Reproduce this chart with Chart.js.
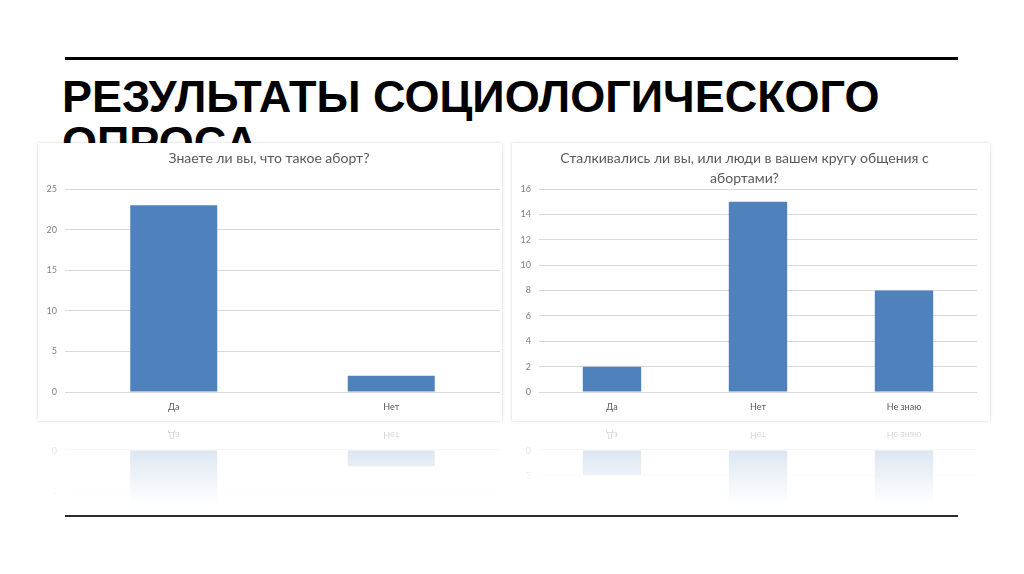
<!DOCTYPE html>
<html lang="ru">
<head>
<meta charset="utf-8">
<script src="https://cdn.jsdelivr.net/npm/chart.js@4.4.1/dist/chart.umd.min.js"></script>
<style>
  html, body { margin: 0; padding: 0; background: #fff; }
  body { width: 1024px; height: 574px; position: relative; overflow: hidden; }
  .rule { position: absolute; left: 65px; width: 893px; background: #000; }
  .rule.top { top: 57px; height: 3px; }
  .rule.bottom { top: 515px; height: 2px; background: #2b2b2b; }
  h1 {
    position: absolute; left: 62px; top: 74px; margin: 0; width: 940px;
    font: bold 45px/46px "Liberation Sans", Arial, sans-serif; color: #000;
  }
  .panel {
    position: absolute; top: 143px; height: 278px; background: #fff;
    box-shadow: 0 0 3px rgba(0, 0, 0, 0.18);
    -webkit-box-reflect: below 0px linear-gradient(to bottom, transparent 70%, rgba(255, 255, 255, 0.3) 100%);
  }
  #p1 { left: 38px; width: 464px; }
  #p2 { left: 512px; width: 478px; }
</style>
</head>
<body>
<div class="rule top"></div>
<h1>РЕЗУЛЬТАТЫ СОЦИОЛОГИЧЕСКОГО ОПРОСА</h1>
<div class="panel" id="p1"><canvas id="c1"></canvas></div>
<div class="panel" id="p2"><canvas id="c2"></canvas></div>
<div class="rule bottom"></div>

<script>
// ── Data ──────────────────────────────────────────────────────────────────────
const q1Title = 'Знаете ли вы, что такое аборт?'
const q1Labels = ['Да', 'Нет']
const q1Values = [23, 2]

const q2Title = ['Сталкивались ли вы, или люди в вашем кругу общения с', 'абортами?']
const q2Labels = ['Да', 'Нет', 'Не знаю']
const q2Values = [2, 15, 8]

// ── Styles ────────────────────────────────────────────────────────────────────
const BAR_COLOR = 'rgb(79, 129, 189)'
const TEXT_COLOR = '#595959'
const TICK_COLOR = '#7f7f7f'
const GRID_COLOR = '#d9d9d9'

function buildConfig(title, labels, values, yMax, yStep, titlePad, padRight) {
  return {
    type: 'bar',
    data: {
      labels,
      datasets: [{
        data: values,
        backgroundColor: BAR_COLOR,
        barPercentage: 0.4,
        categoryPercentage: 1
      }]
    },
    options: {
      responsive: true,
      maintainAspectRatio: false,
      animation: false,
      layout: { padding: { left: 0, right: padRight, top: 0, bottom: 0 } },
      plugins: {
        legend: { display: false },
        tooltip: { enabled: false },
        title: {
          display: true,
          text: title,
          color: TEXT_COLOR,
          font: { family: 'Lato', size: 14, weight: 'normal', lineHeight: 20 / 14 },
          padding: titlePad
        }
      },
      scales: {
        y: {
          min: 0,
          max: yMax,
          afterFit: s => { s.width = 27 },
          ticks: { stepSize: yStep, padding: 8, color: TICK_COLOR, font: { family: 'Lato', size: 9 } },
          grid: { color: GRID_COLOR, lineWidth: 1, drawTicks: false },
          border: { display: false }
        },
        x: {
          afterFit: s => { s.height = 29 },
          ticks: { padding: 10, color: TEXT_COLOR, font: { family: 'Lato', size: 9 } },
          grid: { display: false, drawTicks: false },
          border: { display: false }
        }
      }
    }
  }
}

new Chart(document.getElementById('c1'),
  buildConfig(q1Title, q1Labels, q1Values, 25, 5, { top: 5, bottom: 21 }, 2))
new Chart(document.getElementById('c2'),
  buildConfig(q2Title, q2Labels, q2Values, 16, 2, { top: 5, bottom: 1 }, 13))
</script>
</body>
</html>
